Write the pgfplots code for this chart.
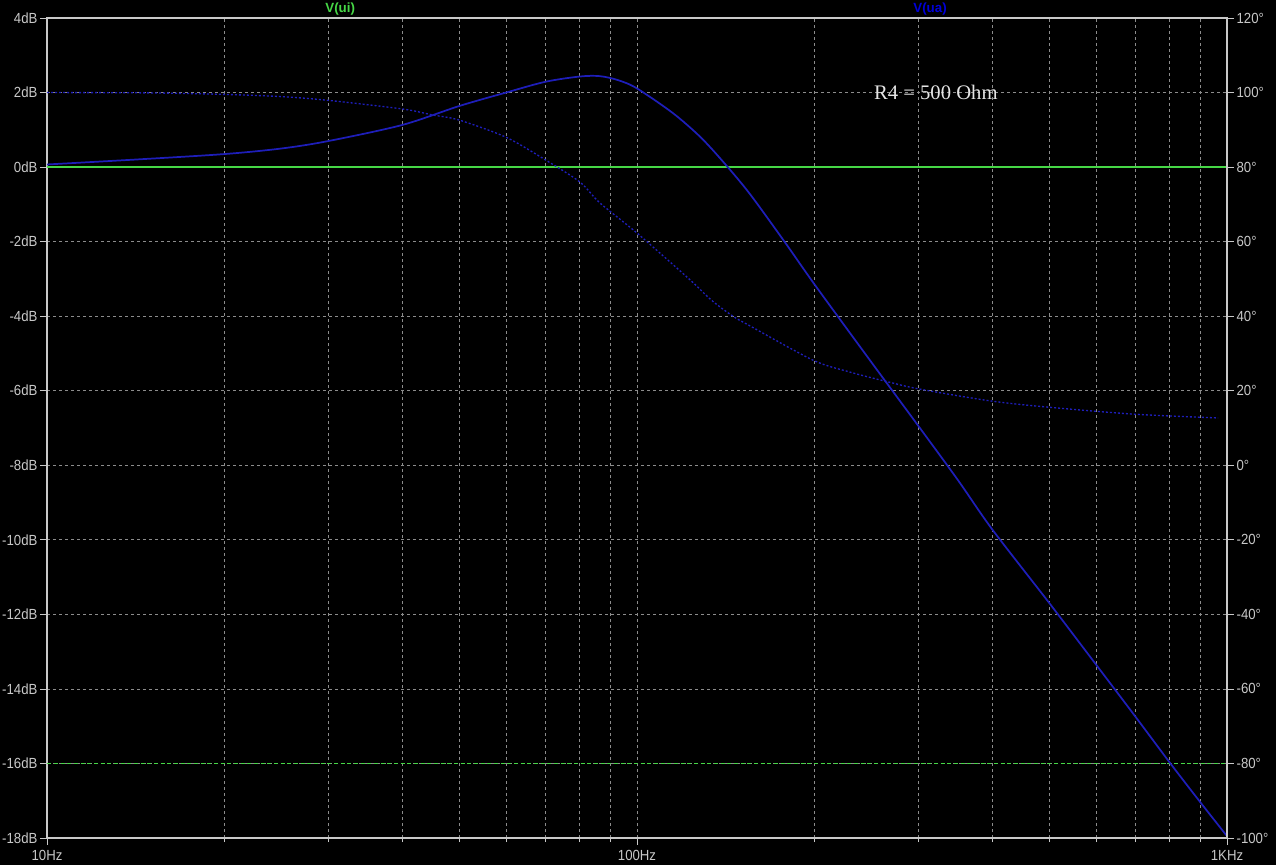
\documentclass[border=0pt]{standalone}
\usepackage{pgfplots}
\pgfplotsset{compat=1.18}
\usepackage{fontspec}
\setmainfont{Liberation Sans}
\newfontfamily\tickfont[FakeStretch=0.9]{Liberation Sans}
\newfontfamily\seriffont{Liberation Serif}

\definecolor{gridgray}{RGB}{140,140,140}
\definecolor{axisgray}{RGB}{200,200,200}
\definecolor{labelgray}{RGB}{200,200,200}
\definecolor{traceblue}{RGB}{30,30,185}
\definecolor{tracegreen}{RGB}{70,215,70}

\begin{document}
\begin{tikzpicture}
\fill[black] (-35.25pt,-20.25pt) rectangle (921.75pt,628.5pt);

% magnitude, left axis
\begin{axis}[
  scale only axis, width=885pt, height=615pt,
  at={(0,0)}, anchor=south west,
  xmode=log, xmin=10, xmax=1000,
  ymin=-18, ymax=4,
  axis line style={draw=axisgray, line width=0.8pt},
  tick style={draw=axisgray, line width=0.6pt},
  major tick length=5pt, minor tick length=3pt,
  tick align=outside,
  tick label style={font=\tickfont\fontsize{11}{12}\selectfont, text=labelgray},
  xtick={10,100,1000},
  xticklabels={10Hz,100Hz,1KHz},
  xtick pos=bottom,
  ytick={-18,-16,...,4},
  yticklabels={-18dB,-16dB,-14dB,-12dB,-10dB,-8dB,-6dB,-4dB,-2dB,0dB,2dB,4dB},
  ytick pos=left,
  grid=both,
  major grid style={gridgray, line width=0.6pt, dash pattern=on 2.25pt off 2.25pt},
  minor grid style={gridgray, line width=0.6pt, dash pattern=on 2.25pt off 2.25pt},
  xticklabel style={anchor=north, inner sep=0pt, yshift=-4pt},
  yticklabel style={anchor=east, inner sep=0pt, xshift=-2pt},
  clip=false,
]
% V(ui) magnitude
\addplot[tracegreen, line width=1pt] coordinates {(10,0) (1000,0)};
% V(ui) phase (green dashed), -16dB on this axis = -80 deg on the right
\addplot[color=tracegreen, line width=1.2pt, densely dashed] coordinates {(10.01,-16) (999,-16)};
% V(ua) magnitude
\addplot[traceblue, line width=1.3pt, smooth] coordinates {
  (10,0.07) (14.4,0.21) (20,0.35) (25,0.5) (30,0.7) (40,1.13) (50,1.64)
  (60,2.0) (70,2.29) (80,2.43) (86.5,2.44) (93,2.33) (100,2.11) (115,1.45)
  (128,0.81) (140,0.14) (155,-0.7) (178,-2.01) (200,-3.15) (250,-5.25)
  (300,-6.95) (350,-8.4) (400,-9.72) (500,-11.7) (600,-13.35) (700,-14.75)
  (800,-15.98) (900,-17.03) (1000,-17.95)
};
\node[text=tracegreen, font=\bfseries\fontsize{10}{12}\selectfont] at (axis cs:31.4,4.24) {V(ui)};
\node[text=blue!85!black, font=\bfseries\fontsize{10}{12}\selectfont] at (axis cs:313.8,4.24) {V(ua)};
\node[text=white!90!black, font=\seriffont\fontsize{15.5}{18}\selectfont] at (axis cs:321,2.0) {R4 = 500 Ohm};
\end{axis}

% phase, right axis
\begin{axis}[
  scale only axis, width=885pt, height=615pt,
  at={(0,0)}, anchor=south west,
  xmode=log, xmin=10, xmax=1000,
  ymin=-100, ymax=120,
  axis x line=none,
  axis y line*=right,
  axis line style={draw=axisgray, line width=0.8pt},
  tick style={draw=axisgray, line width=0.6pt},
  major tick length=5pt,
  tick align=outside,
  tick label style={font=\tickfont\fontsize{11}{12}\selectfont, text=labelgray},
  ytick={-100,-80,...,120},
  yticklabels={-100°,-80°,-60°,-40°,-20°,0°,20°,40°,60°,80°,100°,120°},
  yticklabel style={anchor=west, inner sep=0pt, xshift=2pt},
]
% V(ua) phase
\addplot[traceblue, line width=1pt, dash pattern=on 1.5pt off 1.5pt, smooth] coordinates {
  (10,100) (15,99.9) (20,99.5) (25,98.9) (30,97.9) (40,95.6) (45,94)
  (50,92.6) (60,88) (70,81.9) (80,76) (86.5,70.4) (100,62.3) (122.9,49.8)
  (133.7,44.3) (145.4,40) (155.4,37.4) (198.8,28.2) (229.6,25.0) (263,22.6)
  (300,20.5) (396,17.3) (497,15.6) (698,13.7) (966,12.7)
};
\end{axis}

\pgfresetboundingbox
\path (-35.25pt,-20.25pt) rectangle (921.75pt,628.5pt);
\end{tikzpicture}
\end{document}
